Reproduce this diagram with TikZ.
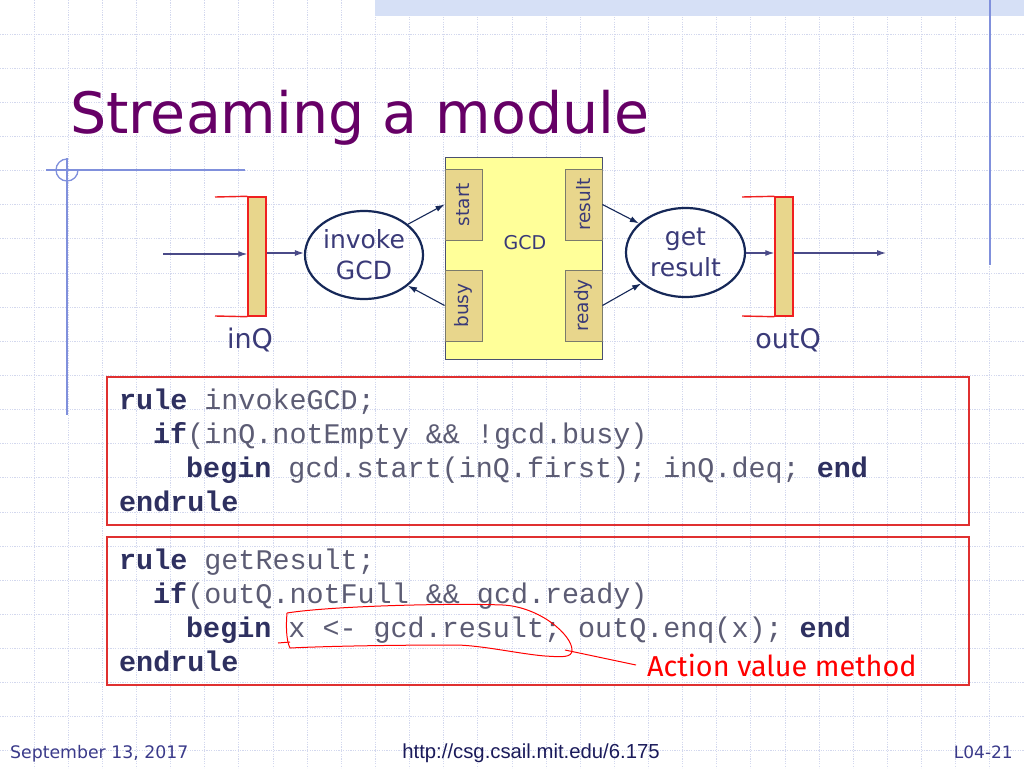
\documentclass[tikz,border=0pt]{standalone}
\usepackage{fontspec}
\setmainfont{DejaVu Sans}
\newfontfamily\codefont{Liberation Mono}
\newfontfamily\notefont{Fira Sans}
\newfontfamily\urlfont{Liberation Sans}
\usetikzlibrary{arrows.meta,shapes.geometric}
\definecolor{titlec}{HTML}{660066}
\definecolor{gridc}{HTML}{D3D8EE}
\definecolor{bandc}{HTML}{D6E0F6}
\definecolor{decoc}{HTML}{8090DC}
\definecolor{navy}{HTML}{3A3A78}
\definecolor{darkn}{HTML}{162858}
\definecolor{arrc}{HTML}{4A4A88}
\definecolor{gcdfill}{HTML}{FFFF99}
\definecolor{gcdline}{HTML}{4A5070}
\definecolor{tan}{HTML}{E8D68C}
\definecolor{portline}{HTML}{7B7B6B}
\definecolor{qred}{HTML}{F02020}
\definecolor{boxred}{HTML}{E03030}
\definecolor{codec}{HTML}{5C5C74}
\definecolor{kwc}{HTML}{2E3060}
\definecolor{footc}{HTML}{3A3A8A}
\definecolor{urlc}{HTML}{1A1A5A}
\newcommand{\kwd}[1]{{\bfseries\color{kwc}#1}}
\begin{document}
\begin{tikzpicture}[x=1pt,y=-1pt,
  gridline/.style={gridc,line width=0.9pt,dash pattern=on 1.2pt off 1.2pt},
  deco/.style={decoc,line width=1.3pt},
  ell/.style={ellipse,draw=darkn,line width=2.2pt,minimum width=118pt,minimum height=88pt,inner sep=0,align=center,text=navy,font=\fontsize{25}{31}\selectfont},
  port/.style={rectangle,draw=portline,fill=tan,line width=0.9pt,minimum width=37pt,minimum height=71pt,inner sep=0},
  portlbl/.style={rotate=90,text=navy,font=\fontsize{18.5}{20}\selectfont},
  qbox/.style={rectangle,draw=qred,fill=tan,line width=1.4pt,minimum width=18pt,minimum height=119pt,inner sep=0},
  qline/.style={qred,line width=1.4pt},
  harr/.style={arrc,line width=1.1pt,-{Latex[length=9pt,width=6pt]}},
  darr/.style={darkn,line width=1.1pt,-{Latex[length=9pt,width=6pt]}},
  qlbl/.style={text=navy,font=\fontsize{27}{30}\selectfont},
  code/.style={anchor=base west,inner sep=0,text=codec,font=\codefont\fontsize{28.4}{34}\selectfont},
  codebox/.style={draw=boxred,line width=1.1pt},
  annot/.style={red,line width=1pt}]
\useasboundingbox (0,0) rectangle (1024,768);
\fill[white] (0,0) rectangle (1024,768);
% background grid
\foreach \k in {1,...,29} \draw[gridline] ({\k*34.13},0) -- ({\k*34.13},768);
\foreach \k in {1,...,22} \draw[gridline] (0,{\k*34.13}) -- (1024,{\k*34.13});
\fill[bandc] (375,0) rectangle (1024,16);
\draw[decoc,line width=1.5pt] (990,0) -- (990,265);
% left decoration
\draw[deco] (46,170) -- (245,170);
\draw[deco] (67,158) -- (67,415);
\draw[deco] (67,159) arc[start angle=90,end angle=360,radius=11pt];
% title
\node[anchor=base west,inner sep=0,text=titlec,font=\fontsize{57}{68}\selectfont] (title) at (70,133) {Streaming a module};
% GCD module
\node[rectangle,draw=gcdline,fill=gcdfill,line width=1pt,minimum width=157pt,minimum height=202pt,inner sep=0] (gcd) at (523.5,258) {};
\node[text=navy,font=\fontsize{19}{21}\selectfont] (gcdl) at (525,243) {GCD};
\node[port] (start) at (463.5,204.5) {};
\node[portlbl] at (start) {start};
\node[port] (busy) at (463.5,305.5) {};
\node[portlbl] at (busy) {busy};
\node[port] (result) at (583.5,204.5) {};
\node[portlbl] at (result) {result};
\node[port] (ready) at (583.5,305.5) {};
\node[portlbl] at (ready) {ready};
% ellipses
\node[ell] (invoke) at (364,255) {invoke\\GCD};
\node[ell,minimum width=119pt,minimum height=89pt] (getr) at (685.5,252.5) {get\\result};
% queues
\node[qbox] (inq) at (257,256.5) {};
\draw[qline] (215,197) -- (inq.north west);
\draw[qline] (215,316) -- (inq.south west);
\node[qbox] (outq) at (784,256.5) {};
\draw[qline] (742,197) -- (outq.north west);
\draw[qline] (742,316) -- (outq.south west);
\node[qlbl] (inql) at (250,340) {inQ};
\node[qlbl] (outql) at (788,340) {outQ};
% connectors
\coordinate (inStart) at (163,254);
\coordinate (outEnd) at (886,253);
\draw[harr] (inStart) -- (inStart -| inq.west);
\draw[harr] (inq.east |- 0,253) -- (invoke.west |- 0,253);
\draw[darr] (invoke.35) -- (start.west);
\draw[darr] (busy.west) -- (invoke.-35);
\draw[darr] (result.east) -- (getr.148);
\draw[darr] (ready.east) -- (getr.215);
\draw[harr] (getr.east |- 0,253) -- (outq.west |- 0,253);
\draw[harr] (outq.east |- outEnd) -- (outEnd);
% code boxes
\draw[codebox] (107,377) rectangle (969,525);
\draw[codebox] (107,537) rectangle (969,685);
\node[code] (a1) at (119,409) {\kwd{rule} invokeGCD;};
\node[code] (a2) at (153,443) {\kwd{if}(inQ.notEmpty \&\& !gcd.busy)};
\node[code] (a3) at (186,477) {\kwd{begin} gcd.start(inQ.first); inQ.deq; \kwd{end}};
\node[code] (a4) at (119,511) {\kwd{endrule}};
\node[code] (b1) at (119,569) {\kwd{rule} getResult;};
\node[code] (b2) at (153,603) {\kwd{if}(outQ.notFull \&\& gcd.ready)};
\node[code] (b3) at (186,637) {\kwd{begin} x <- gcd.result; outQ.enq(x); \kwd{end}};
\node[code] (b4) at (119,671) {\kwd{endrule}};
% annotation
\draw[annot] (287,613) .. controls (330,606) and (450,603) .. (503,605)
  .. controls (540,607) and (572,635) .. (572,650)
  .. controls (572,658) and (562,657) .. (545,656)
  .. controls (520,654) and (480,645) .. (455,645)
  .. controls (400,645) and (330,646) .. (290,648)
  .. controls (286,640) and (286,625) .. (287,613);
\draw[annot] (278,643) -- (290,642);
\coordinate (ptrA) at (565,650);
\node[anchor=west,inner sep=0,text=red,font=\notefont\fontsize{28.8}{32}\selectfont] (note) at (647,665) {Action value method};
\draw[annot] (ptrA) -- ([xshift=-11pt]note.west);
% footer
\node[anchor=base west,inner sep=0,text=footc,font=\fontsize{17.3}{19}\selectfont] (date) at (10,758) {September 13, 2017};
\node[anchor=base,inner sep=0,text=urlc,font=\urlfont\fontsize{20.3}{22}\selectfont] (url) at (531,758) {http://csg.csail.mit.edu/6.175};
\node[anchor=base east,inner sep=0,text=footc,font=\fontsize{17}{19}\selectfont] (page) at (1013,758) {L04-21};
\end{tikzpicture}
\end{document}
